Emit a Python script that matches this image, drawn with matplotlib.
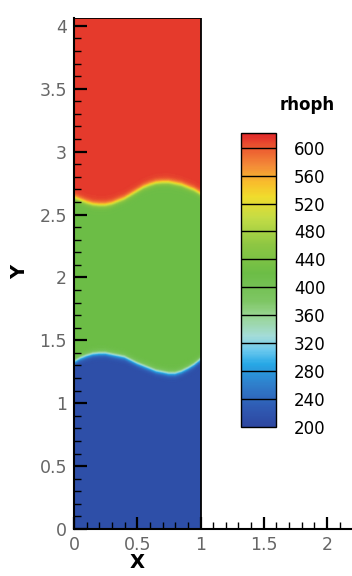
import numpy as np
import matplotlib
matplotlib.use("Agg")
import matplotlib.pyplot as plt
from matplotlib.colors import LinearSegmentedColormap, Normalize
from matplotlib.ticker import MultipleLocator, FuncFormatter
from matplotlib.patches import Rectangle

# ---- data ----
x_pts = [0.0, 0.05, 0.1, 0.15, 0.2, 0.25, 0.3, 0.35, 0.4, 0.45, 0.5,
         0.55, 0.6, 0.65, 0.7, 0.75, 0.8, 0.85, 0.9, 0.95, 1.0]
upper_interface = [2.64, 2.62, 2.60, 2.585, 2.58, 2.58, 2.59, 2.61, 2.63, 2.66, 2.69,
                   2.72, 2.74, 2.755, 2.76, 2.76, 2.75, 2.74, 2.72, 2.70, 2.67]
lower_interface = [1.33, 1.36, 1.38, 1.395, 1.40, 1.40, 1.39, 1.38, 1.37, 1.345, 1.32,
                   1.30, 1.28, 1.26, 1.25, 1.24, 1.24, 1.255, 1.28, 1.31, 1.35]
rho_top = 612
rho_mid = 420
rho_bot = 212
domain_x = (0.0, 1.0)
domain_y = (0.0, 4.06)
cbar_levels = [200, 240, 280, 320, 360, 400, 440, 480, 520, 560, 600]
cbar_range = (200, 621)

# colour anchors (value, colour)
cmap_values = [200, 230, 260, 290, 310, 330, 360, 380, 420, 460, 500, 530, 550, 575, 600, 621]
cmap_colors = ["#2e46a0", "#2f5db5", "#2f7ecb", "#27a8e6", "#6cc9ee", "#a4dcd8",
               "#98d490", "#7ec664", "#6cbd46", "#8cc643", "#c4dc45", "#f0dc2c",
               "#f8be2c", "#f38a38", "#ec5a30", "#e0262a"]

plt.rcParams['font.family'] = ['DejaVu Sans']

lo, hi = cbar_range
cmap = LinearSegmentedColormap.from_list(
    "rho", [((v - lo) / (hi - lo), c) for v, c in zip(cmap_values, cmap_colors)])
norm = Normalize(lo, hi)

# field
nx, ny = 200, 800
xs = np.linspace(domain_x[0], domain_x[1], nx)
ys = np.linspace(domain_y[0], domain_y[1], ny)
X, Y = np.meshgrid(xs, ys)
yu = np.interp(xs, x_pts, upper_interface)[None, :]
yl = np.interp(xs, x_pts, lower_interface)[None, :]
w = 0.028
F = (rho_bot + (rho_mid - rho_bot) * 0.5 * (1 + np.tanh((Y - yl) / w))
     + (rho_top - rho_mid) * 0.5 * (1 + np.tanh((Y - yu) / w)))

fig = plt.figure(figsize=(3.52, 5.76), dpi=100)
x0px, y0px = 74, 529
sx, sy = 126.5, 125.8
ax = fig.add_axes([x0px / 352, (576 - y0px) / 576, 1 - x0px / 352, (y0px - 18) / 576])
im = ax.pcolormesh(X, Y, F, cmap=cmap, norm=norm, shading='gouraud')
ax.set_xlim(0, (352 - x0px) / sx)
ax.set_ylim(0, (y0px - 18) / sy)
ax.add_patch(Rectangle((domain_x[0], domain_y[0]), domain_x[1] - domain_x[0],
                       domain_y[1] - domain_y[0], fill=False, ec='black', lw=1.3, zorder=3))
for s in ['top', 'right']:
    ax.spines[s].set_visible(False)
for s in ['left', 'bottom']:
    ax.spines[s].set_linewidth(1.5)
ax.xaxis.set_major_locator(MultipleLocator(0.5))
ax.xaxis.set_minor_locator(MultipleLocator(0.1))
ax.yaxis.set_major_locator(MultipleLocator(0.5))
ax.yaxis.set_minor_locator(MultipleLocator(0.1))
fmt = FuncFormatter(lambda v, p: "%g" % round(v, 2))
ax.xaxis.set_major_formatter(fmt)
ax.yaxis.set_major_formatter(fmt)
ax.tick_params(which='major', direction='in', length=9, width=1.6, labelsize=12.5,
               labelcolor='#666666', pad=5)
ax.tick_params(which='minor', direction='in', length=5, width=1.0)
ax.text(0.5, -0.27, "X", transform=ax.transData, ha='center', va='center',
        fontsize=14, fontweight='bold', clip_on=False)
ax.text(-0.43, 2.04, "Y", transform=ax.transData, ha='center', va='center',
        fontsize=14, fontweight='bold', rotation=90, clip_on=False)

# colorbar
cax = fig.add_axes([241 / 352, (576 - 427) / 576, 35 / 352, (427 - 133) / 576])
cb = fig.colorbar(im, cax=cax)
cb.set_ticks(cbar_levels)
cb.set_ticklabels([str(v) for v in cbar_levels])
cb.outline.set_linewidth(1.0)
cax.tick_params(length=0, labelsize=12, pad=13, labelcolor='black')
for lv in cbar_levels[1:]:
    cax.axhline(lv, color='black', lw=1.0)
fig.text(307 / 352, 1 - 105 / 576, "rhoph", ha='center', va='center',
         fontsize=12, fontweight='bold')

fig.savefig("out.png", dpi=100)
